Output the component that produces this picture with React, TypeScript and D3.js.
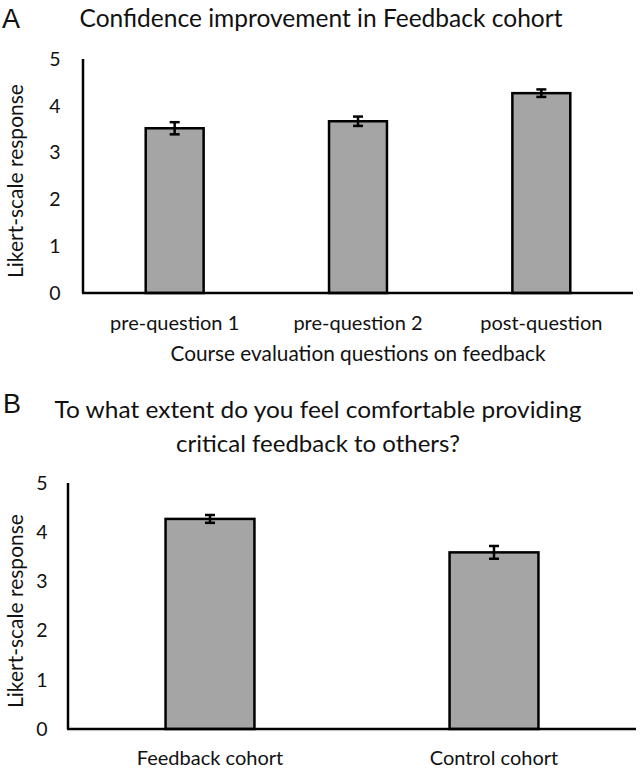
import React from "react";
import * as d3 from "d3";

// Panel A data
const catsA = ["pre-question 1", "pre-question 2", "post-question"];
const valsA = [3.52, 3.67, 4.27];
const errA = [0.13, 0.1, 0.08];
// Panel B data
const catsB = ["Feedback cohort", "Control cohort"];
const valsB = [4.27, 3.59];
const errB = [0.08, 0.13];
const yTicks = [0, 1, 2, 3, 4, 5];

const FONT = "Lato, 'Open Sans', sans-serif";
const BAR_FILL = "#a5a5a5";

type PanelProps = {
  cats: string[];
  vals: number[];
  errs: number[];
  x0: number;
  x1: number;
  yTop: number;
  yBot: number;
  padInner: number;
  tickX: number;
  yTitleX: number;
  labelY: number;
};

function Panel(p: PanelProps) {
  const x = d3.scaleBand<string>().domain(p.cats).range([p.x0, p.x1]).paddingInner(p.padInner).paddingOuter(p.padInner / 2);
  const y = d3.scaleLinear().domain([0, 5]).range([p.yBot, p.yTop]);
  const cap = 5;
  return (
    <g>
      {p.cats.map((c, i) => {
        const bx = x(c)!;
        const cx = bx + x.bandwidth() / 2;
        return (
          <g key={c}>
            <rect x={bx} y={y(p.vals[i])} width={x.bandwidth()} height={y(0) - y(p.vals[i])} fill={BAR_FILL} stroke="#000" strokeWidth={2.5} />
            <line x1={cx} x2={cx} y1={y(p.vals[i] + p.errs[i])} y2={y(p.vals[i] - p.errs[i])} stroke="#000" strokeWidth={2.5} />
            <line x1={cx - cap} x2={cx + cap} y1={y(p.vals[i] + p.errs[i])} y2={y(p.vals[i] + p.errs[i])} stroke="#000" strokeWidth={2.5} />
            <line x1={cx - cap} x2={cx + cap} y1={y(p.vals[i] - p.errs[i])} y2={y(p.vals[i] - p.errs[i])} stroke="#000" strokeWidth={2.5} />
            <text x={cx} y={p.labelY} textAnchor="middle" fontFamily={FONT} fontSize={20} fill="#111">{c}</text>
          </g>
        );
      })}
      <line x1={p.x0} x2={p.x0} y1={p.yTop} y2={p.yBot} stroke="#000" strokeWidth={2.5} />
      <line x1={p.x0 - 1} x2={p.x1} y1={p.yBot} y2={p.yBot} stroke="#000" strokeWidth={2.5} />
      {yTicks.map((t) => (
        <text key={t} x={p.tickX} y={y(t)} dy="0.35em" textAnchor="middle" fontFamily={FONT} fontSize={19.5} fill="#111">{t}</text>
      ))}
      <text transform={`translate(${p.yTitleX},${(p.yTop + p.yBot) / 2 + 5}) rotate(-90)`} textAnchor="middle" dy="0.35em" fontFamily={FONT} fontSize={21} fill="#111">Likert-scale response</text>
    </g>
  );
}

export default function App() {
  return (
    <svg width={640} height={769} style={{ position: "absolute", left: 0, top: 0, background: "#fff" }}>
      <rect width={640} height={769} fill="#fff" />
      <text x={2} y={28} fontFamily="'Liberation Sans', Arial, sans-serif" fontSize={27} fill="#111">A</text>
      <text x={321} y={27} textAnchor="middle" fontFamily={FONT} fontSize={25} fill="#111" textLength={483} lengthAdjust="spacingAndGlyphs">Confidence improvement in Feedback cohort</text>
      <Panel cats={catsA} vals={valsA} errs={errA} x0={83} x1={633} yTop={59} yBot={293} padInner={0.684} tickX={55} yTitleX={16} labelY={330} />
      <text x={358} y={361} textAnchor="middle" fontFamily={FONT} fontSize={20.5} fill="#111" textLength={375} lengthAdjust="spacingAndGlyphs">Course evaluation questions on feedback</text>

      <text x={3} y={413} fontFamily="'Liberation Sans', Arial, sans-serif" fontSize={27} fill="#111">B</text>
      <text x={318} y={418} textAnchor="middle" fontFamily={FONT} fontSize={24} fill="#111" textLength={527} lengthAdjust="spacingAndGlyphs">To what extent do you feel comfortable providing</text>
      <text x={318} y={452} textAnchor="middle" fontFamily={FONT} fontSize={24} fill="#111">critical feedback to others?</text>
      <Panel cats={catsB} vals={valsB} errs={errB} x0={68} x1={636} yTop={483} yBot={729} padInner={0.687} tickX={42} yTitleX={16} labelY={765} />
    </svg>
  );
}
